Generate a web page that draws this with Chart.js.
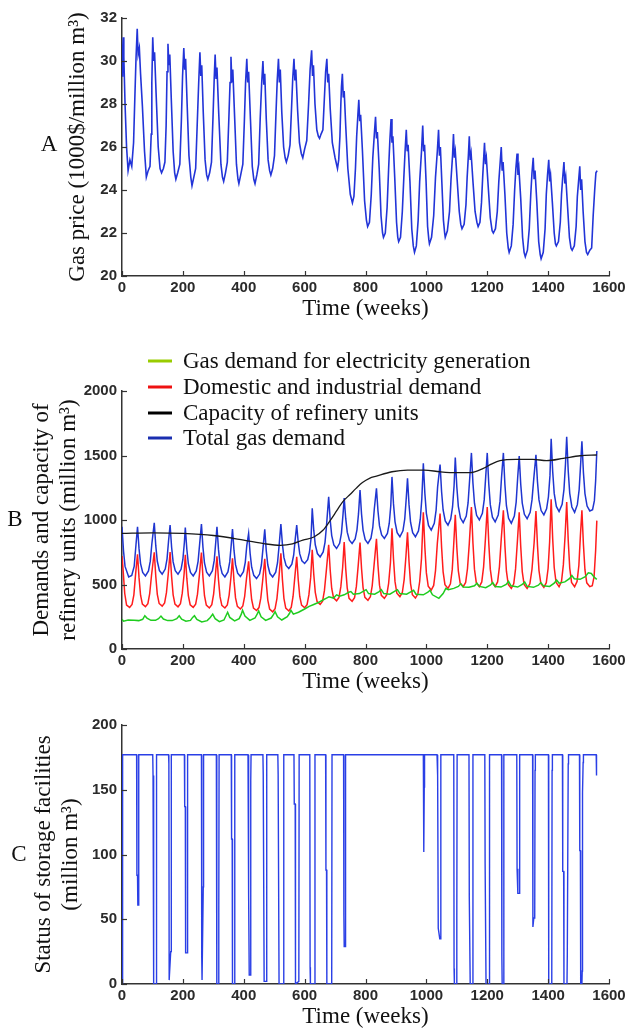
<!DOCTYPE html>
<html>
<head>
<meta charset="utf-8">
<script src="https://cdn.jsdelivr.net/npm/chart.js@4.4.0/dist/chart.umd.min.js"></script>
<style>
  html, body { margin: 0; padding: 0; background: #fff; }
  #wrap { position: relative; width: 626px; height: 1031px; overflow: hidden; background: #fff; }
  canvas { position: absolute; left: 0; }
</style>
</head>
<body>
<div id="wrap">
  <canvas id="chartPrice" width="626" height="330" style="top:0px"></canvas>
  <canvas id="chartDemand" width="626" height="370" style="top:330px"></canvas>
  <canvas id="chartStorage" width="626" height="331" style="top:700px"></canvas>
</div>
<script>
// ---- tick labels ----
const weekTicks = [0, 200, 400, 600, 800, 1000, 1200, 1400, 1600];
const priceTicks = [20, 22, 24, 26, 28, 30, 32];
const demandTicks = [0, 500, 1000, 1500, 2000];
const storageTicks = [0, 50, 100, 150, 200];

// ---- series: [week, value] ----
const gasPrice = [
  [0,29.3],[2,30.5],[4,31.1],[6,30.2],[10,28.0],[15,26.0],[20,24.9],[26,25.4],[32,25.1],[38,26.2],[42,28.2],[46,30.1],
  [50,31.5],[53,30.3],[57,30.6],[61,29.4],[67,27.9],[74,25.8],[80,24.6],[86,24.9],[92,25.1],[96,26.6],[98,29.0],
  [101,31.1],[104,30.0],[107,30.4],[112,28.5],[119,26.0],[125,25.0],[130,24.8],[136,25.0],[141,25.3],[145,27.0],[148,29.5],
  [151,30.8],[154,29.8],[157,30.3],[162,28.2],[168,25.8],[173,24.8],[177,24.5],[183,24.8],[190,25.2],[195,27.2],[199,29.3],
  [203,30.6],[206,29.6],[209,30.1],[214,28.0],[220,25.6],[226,24.6],[230,24.2],[236,24.6],[242,25.0],[247,27.0],[252,29.0],
  [256,30.4],[259,29.3],[262,29.8],[267,27.6],[273,25.4],[278,24.7],[282,24.5],[288,24.8],[294,25.3],[299,27.4],[303,29.2],
  [306,30.3],[309,29.2],[312,29.7],[318,27.5],[325,25.2],[330,24.6],[334,24.4],[340,24.8],[346,25.3],[351,27.3],[355,29.0],
  [358,30.2],[361,29.0],[364,29.6],[370,27.4],[376,25.2],[381,24.5],[384,24.3],[390,24.7],[397,25.2],[402,27.2],[406,29.0],
  [410,30.1],[413,29.0],[416,29.5],[422,27.3],[428,25.1],[433,24.5],[437,24.3],[443,24.7],[449,25.2],[454,27.3],[459,29.0],
  [463,30.0],[466,28.9],[469,29.4],[474,27.3],[480,25.4],[485,24.9],[489,24.7],[495,25.0],[501,25.6],[506,27.6],[510,29.1],
  [514,30.1],[517,29.0],[520,29.6],[525,27.6],[531,26.0],[536,25.5],[540,25.3],[546,25.6],[552,26.1],[557,27.8],[561,29.2],
  [565,30.1],[568,29.1],[571,29.6],[577,27.7],[583,26.2],[589,25.7],[594,25.5],[600,25.9],[607,26.3],[613,28.0],[618,29.6],
  [623,30.5],[626,29.3],[629,29.8],[634,28.0],[640,26.8],[645,26.5],[649,26.4],[654,26.6],[660,26.8],[665,28.3],[669,29.5],
  [673,30.1],[676,29.0],[679,29.4],[684,27.8],[691,26.2],[700,25.5],[708,25.0],[712,25.4],[716,26.5],[719,28.0],[721,28.8],
  [724,29.4],[727,28.3],[730,28.6],[735,27.0],[742,25.0],[750,23.8],[757,23.4],[762,23.7],[767,25.0],[771,26.5],[775,27.5],
  [778,28.2],[781,27.2],[784,27.5],[790,25.8],[797,23.5],[803,22.6],[807,22.3],[813,22.5],[819,23.8],[824,25.5],[829,26.6],
  [833,27.4],[836,26.4],[839,26.7],[845,25.0],[851,22.8],[856,22.0],[859,21.8],[865,22.0],[871,23.2],[876,25.0],[880,26.3],
  [884,27.3],[887,26.2],[890,26.5],[896,24.6],[902,22.5],[906,21.8],[909,21.6],[915,21.8],[921,23.0],[926,24.6],[930,25.8],
  [934,26.8],[937,25.8],[940,26.1],[946,24.4],[952,22.2],[957,21.4],[961,21.1],[967,21.4],[973,22.6],[978,24.4],[984,25.8],
  [988,27.0],[991,25.8],[994,26.1],[999,24.4],[1004,22.3],[1008,21.7],[1010,21.5],[1017,21.8],[1024,22.8],[1030,24.6],[1036,25.8],
  [1040,26.8],[1043,25.6],[1046,26.0],[1051,24.3],[1056,22.6],[1060,22.0],[1062,21.8],[1069,22.1],[1076,23.0],[1081,24.5],[1086,25.6],
  [1089,26.6],[1092,25.5],[1095,25.8],[1101,24.5],[1108,23.0],[1113,22.4],[1117,22.2],[1124,22.4],[1130,23.3],[1134,24.6],[1138,25.6],
  [1141,26.5],[1144,25.4],[1147,25.7],[1153,24.4],[1160,23.0],[1166,22.5],[1170,22.3],[1176,22.5],[1181,23.4],[1185,24.6],[1188,25.4],
  [1191,26.2],[1194,25.2],[1197,25.5],[1203,24.2],[1210,22.7],[1216,22.1],[1220,22.0],[1227,22.2],[1233,23.0],[1238,24.4],[1242,25.2],
  [1246,26.0],[1249,24.9],[1252,25.3],[1258,23.8],[1264,22.0],[1269,21.3],[1272,21.1],[1279,21.4],[1285,22.4],[1290,24.0],[1294,25.0],
  [1298,25.7],[1301,24.7],[1304,25.0],[1310,23.6],[1316,21.8],[1321,21.1],[1325,20.9],[1332,21.2],[1338,22.2],[1343,23.8],[1347,24.8],
  [1351,25.5],[1354,24.5],[1357,24.9],[1363,23.4],[1369,21.6],[1374,21.0],[1377,20.8],[1384,21.1],[1390,22.2],[1394,23.8],[1398,24.7],
  [1402,25.4],[1405,24.4],[1408,24.7],[1414,23.4],[1420,22.0],[1424,21.5],[1427,21.4],[1434,21.6],[1440,22.5],[1444,23.8],[1448,24.6],
  [1452,25.3],[1455,24.3],[1458,24.6],[1464,23.2],[1470,21.8],[1475,21.3],[1479,21.2],[1486,21.4],[1492,22.3],[1496,23.7],[1500,24.4],
  [1504,25.1],[1507,24.0],[1510,24.5],[1515,23.0],[1521,21.6],[1526,21.1],[1530,21.0],[1537,21.2],[1543,21.3],[1548,22.8],[1553,24.0],[1557,24.8],[1561,24.9]
];

const electricityDemand = [
  [0,230],[5,215],[20,225],[40,222],[55,220],[68,230],[75,258],[82,240],[95,222],[110,222],[120,235],[128,255],[136,232],
  [150,220],[165,220],[180,235],[188,258],[196,232],[210,215],[225,222],[232,245],[238,258],[246,230],[262,210],[280,220],
  [290,245],[298,270],[306,235],[320,212],[335,225],[342,260],[347,285],[354,245],[370,218],[385,235],[392,270],[396,300],
  [404,255],[420,222],[437,240],[444,270],[449,295],[457,250],[472,222],[490,240],[498,268],[503,290],[511,250],[525,225],
  [543,250],[550,275],[555,300],[563,270],[580,285],[600,310],[615,330],[630,345],[645,360],[660,380],[672,395],[680,405],
  [695,395],[705,420],[715,410],[730,420],[745,440],[752,445],[760,425],[780,430],[795,450],[802,460],[810,430],[830,425],
  [845,445],[852,460],[860,430],[880,425],[898,450],[905,460],[913,430],[935,425],[950,445],[958,455],[966,425],[990,420],
  [1005,440],[1012,455],[1020,420],[1041,393],[1055,430],[1064,470],[1072,460],[1090,470],[1105,485],[1113,505],[1121,480],
  [1140,478],[1158,490],[1166,510],[1174,485],[1195,475],[1210,495],[1218,515],[1226,485],[1245,480],[1262,500],[1270,525],
  [1278,490],[1300,480],[1315,500],[1323,520],[1331,485],[1352,478],[1368,495],[1376,515],[1384,490],[1405,485],[1420,510],
  [1428,535],[1436,510],[1455,520],[1470,545],[1478,570],[1486,545],[1505,540],[1522,560],[1532,590],[1542,585],[1552,555],[1560,540]
];

const domesticDemand = [
  [0,720],[4,600],[9,430],[15,340],[25,322],[33,345],[39,420],[45,590],
  [51,734],[56,551],[61,417],[67,348],[77,328],[85,352],[91,430],[97,572],
  [106,750],[111,562],[116,424],[122,353],[132,332],[140,357],[146,437],[152,583],
  [158,751],[163,560],[168,420],[174,348],[184,327],[192,352],[198,433],[204,581],
  [208,730],[213,547],[218,413],[224,343],[234,323],[242,347],[248,425],[254,567],
  [261,748],[266,555],[271,413],[277,340],[287,318],[295,344],[301,426],[307,576],
  [312,718],[317,538],[322,406],[328,338],[338,318],[346,342],[352,418],[358,558],
  [363,703],[368,526],[373,396],[379,330],[389,310],[397,334],[403,408],[409,546],
  [416,680],[421,508],[426,382],[432,317],[442,298],[450,321],[456,394],[462,527],
  [469,700],[474,515],[479,379],[485,309],[495,288],[503,313],[509,391],[515,535],
  [522,741],[527,540],[532,393],[538,317],[548,295],[556,322],[562,407],[568,563],
  [574,715],[579,537],[584,407],[590,340],[600,320],[608,344],[614,419],[620,557],
  [625,769],[630,579],[635,439],[641,367],[651,346],[659,371],[665,452],[671,600],
  [679,808],[684,613],[689,469],[695,396],[705,374],[713,400],[719,483],[725,634],
  [730,830],[735,623],[740,471],[746,393],[756,370],[764,398],[770,485],[776,646],
  [782,825],[787,624],[792,476],[798,400],[808,378],[816,405],[822,490],[828,646],
  [836,855],[841,647],[846,495],[852,416],[862,393],[870,421],[876,509],[882,670],
  [887,935],[892,697],[897,522],[903,432],[913,406],[921,438],[927,538],[933,723],
  [938,905],[943,676],[948,507],[954,421],[964,395],[972,426],[978,523],[984,701],
  [990,1060],[995,789],[1000,590],[1006,487],[1016,457],[1024,493],[1030,608],[1036,819],
  [1045,1050],[1050,789],[1055,598],[1061,499],[1071,470],[1079,505],[1085,615],[1090,818],
  [1095,1040],[1100,789],[1105,606],[1111,511],[1121,483],[1129,516],[1135,622],[1141,817],
  [1148,1100],[1153,822],[1158,619],[1164,514],[1174,483],[1182,520],[1188,637],[1194,853],
  [1200,1100],[1205,822],[1210,619],[1216,514],[1226,483],[1234,520],[1240,637],[1246,853],
  [1253,1075],[1258,803],[1263,603],[1269,500],[1279,470],[1287,506],[1293,621],[1299,833],
  [1305,1060],[1310,795],[1315,600],[1321,500],[1331,470],[1340,505],[1347,618],[1354,824],
  [1360,1070],[1365,804],[1370,608],[1376,508],[1386,478],[1394,514],[1400,626],[1405,833],
  [1410,1160],[1415,855],[1420,632],[1426,517],[1436,483],[1444,524],[1450,652],[1456,889],
  [1461,1140],[1466,844],[1471,628],[1477,516],[1487,483],[1495,522],[1501,647],[1506,877],
  [1511,1075],[1516,809],[1521,613],[1527,513],[1537,483],[1545,490],[1551,560],[1556,760],[1560,995]
];

const refineryCapacity = [
  [0,896],[100,900],[200,896],[300,880],[400,844],[470,815],[520,804],[560,815],[594,844],[632,870],
  [660,920],[681,986],[705,1070],[725,1141],[750,1200],[769,1245],[790,1290],[813,1323],[836,1340],
  [887,1374],[938,1387],[993,1387],[1045,1374],[1100,1367],[1143,1367],[1187,1400],[1215,1435],
  [1242,1460],[1295,1470],[1350,1470],[1395,1460],[1450,1478],[1505,1498],[1560,1504]
];

const totalDemand = [
  [0,947],[5,760],[10,640],[22,559],[32,570],[40,640],[46,810],
  [51,947],[56,776],[61,662],[68,594],[77,567],[87,605],[93,681],[98,814],
  [106,978],[111,799],[116,680],[123,608],[132,580],[142,620],[148,699],[153,839],
  [158,960],[163,789],[168,675],[175,607],[184,580],[194,618],[200,694],[205,827],
  [208,942],[213,773],[218,661],[225,593],[234,567],[244,605],[250,680],[255,811],
  [261,968],[266,788],[271,667],[278,595],[287,567],[297,607],[303,687],[308,828],
  [312,947],[317,772],[322,656],[329,586],[338,559],[348,598],[354,675],[359,811],
  [363,929],[368,764],[373,654],[380,588],[389,562],[399,599],[405,672],[410,801],
  [416,896],[421,739],[426,634],[433,571],[442,546],[452,581],[458,651],[463,774],
  [469,927],[474,761],[479,651],[486,585],[495,559],[505,596],[511,669],[516,798],
  [522,968],[527,813],[532,710],[539,648],[548,624],[558,658],[564,727],[569,848],
  [574,960],[579,826],[584,737],[591,684],[600,663],[610,693],[616,752],[621,856],
  [625,1090],[630,921],[635,808],[642,740],[651,714],[661,752],[667,827],[672,958],
  [679,1180],[684,1000],[689,879],[696,807],[705,779],[715,819],[721,899],[726,1040],
  [730,1170],[735,1012],[740,906],[747,843],[756,818],[766,853],[772,924],[777,1047],
  [782,1232],[787,1046],[792,922],[799,847],[808,818],[818,859],[824,942],[829,1087],
  [836,1245],[841,1070],[846,954],[853,884],[862,857],[872,896],[878,973],[883,1109],
  [887,1334],[892,1125],[897,986],[904,902],[913,870],[923,916],[929,1009],[934,1172],
  [938,1323],[943,1119],[948,983],[955,902],[964,870],[974,915],[980,1006],[985,1164],
  [990,1440],[995,1207],[1000,1052],[1007,958],[1016,922],[1026,974],[1032,1077],[1037,1259],
  [1045,1430],[1050,1219],[1055,1078],[1062,993],[1071,960],[1080,1007],[1086,1101],[1091,1266],
  [1095,1485],[1100,1258],[1105,1106],[1112,1015],[1121,980],[1131,1031],[1137,1132],[1142,1308],
  [1148,1520],[1153,1286],[1158,1130],[1165,1036],[1174,1000],[1184,1052],[1190,1156],[1195,1338],
  [1200,1520],[1205,1279],[1210,1119],[1217,1022],[1226,985],[1236,1039],[1242,1146],[1247,1333],
  [1253,1520],[1258,1275],[1263,1111],[1270,1013],[1279,975],[1289,1030],[1295,1139],[1300,1329],
  [1305,1495],[1310,1277],[1315,1131],[1322,1044],[1331,1010],[1341,1059],[1347,1156],[1353,1325],
  [1360,1505],[1365,1296],[1370,1156],[1377,1073],[1386,1040],[1395,1087],[1401,1180],[1406,1342],
  [1410,1630],[1415,1376],[1420,1206],[1427,1105],[1436,1065],[1446,1122],[1452,1235],[1457,1432],
  [1461,1646],[1466,1382],[1471,1207],[1478,1101],[1487,1060],[1496,1119],[1502,1236],[1507,1441],
  [1511,1610],[1516,1367],[1521,1205],[1528,1108],[1537,1070],[1546,1080],[1552,1150],[1556,1300],[1560,1535]
];

const storageStatus = [
  [0,0],[1,79],[2,79],[3,177],
  [48,177],[49,84],[51,84],[52,61],[54,61],[55,177],
  [101,177],[102,161],[103,161],[104,54],[105,0],[112,0],[113,165],[114,177],
  [153,177],[154,170],[155,3],[160,25],[161,25],[162,177],
  [205,177],[206,137],[208,137],[209,24],[214,24],[215,157],[216,177],
  [261,177],[262,20],[263,3],[266,3],[267,75],[268,177],
  [310,177],[311,170],[312,0],[317,0],[318,55],[319,177],
  [359,177],[360,112],[362,112],[363,0],[369,0],[370,64],[371,177],
  [414,177],[415,69],[417,69],[418,7],[422,7],[423,157],[424,177],
  [463,177],[464,162],[466,162],[467,2],[474,2],[475,65],[476,177],
  [512,177],[513,162],[515,162],[516,0],[530,0],[531,32],[532,177],
  [565,177],[566,139],[569,139],[570,0],[581,2],[582,177],
  [617,177],[618,13],[619,0],[632,0],[634,177],
  [669,177],[670,88],[672,88],[673,0],[689,0],[690,177],
  [728,177],[729,53],[730,29],[733,29],[734,110],[735,177],
  [990,177],[991,152],[992,102],[993,152],[994,177],
  [1035,177],[1036,161],[1038,161],[1039,43],[1044,35],[1046,35],[1047,160],[1048,177],
  [1090,177],[1091,12],[1092,0],[1099,0],[1100,51],[1101,177],
  [1140,177],[1141,67],[1143,67],[1144,0],[1151,0],[1153,177],
  [1192,177],[1193,93],[1195,93],[1196,0],[1206,0],[1207,129],[1208,177],
  [1247,177],[1248,21],[1249,0],[1253,0],[1254,171],[1255,177],
  [1297,177],[1298,89],[1300,89],[1301,70],[1305,70],[1306,158],[1307,177],
  [1349,177],[1350,44],[1353,51],[1356,51],[1357,165],[1358,177],
  [1401,177],[1402,0],[1411,0],[1412,3],[1413,165],[1414,177],
  [1447,177],[1448,87],[1451,87],[1452,0],[1462,0],[1463,23],[1465,23],[1466,170],[1467,177],
  [1503,177],[1504,103],[1506,103],[1507,0],[1511,0],[1512,10],[1513,148],[1515,171],[1516,177],
  [1558,177],[1559,161]
];

const demandLabels = [
  'Gas demand for electricity generation',
  'Domestic and industrial demand',
  'Capacity of refinery units',
  'Total gas demand'
];

// ---- shared styling ----
const SERIF = '"Liberation Serif", "Times New Roman", serif';
const SANS = '"Liberation Sans", Arial, sans-serif';
const TEXT = '#111';
const TICK_TEXT = '#2b2b2b';
const AXIS = '#333';

const toPoints = arr => arr.map(([x, y]) => ({ x, y }));

// Inward tick marks, panel letter and the in-axes legend
const framePlugin = {
  id: 'frame',
  afterDraw(chart, args, o) {
    const { ctx, chartArea: a } = chart;
    const xs = chart.scales.x, ys = chart.scales.y;
    ctx.save();
    ctx.strokeStyle = AXIS;
    ctx.lineWidth = 1.2;
    for (const t of xs.ticks) {
      const p = Math.round(xs.getPixelForValue(t.value)) + 0.5;
      ctx.beginPath(); ctx.moveTo(p, a.bottom); ctx.lineTo(p, a.bottom - 5); ctx.stroke();
    }
    for (const t of ys.ticks) {
      const p = Math.round(ys.getPixelForValue(t.value)) + 0.5;
      ctx.beginPath(); ctx.moveTo(a.left, p); ctx.lineTo(a.left + 5, p); ctx.stroke();
    }
    ctx.fillStyle = TEXT;
    ctx.font = '23px ' + SERIF;
    ctx.textAlign = 'center';
    ctx.textBaseline = 'middle';
    if (o.letter) ctx.fillText(o.letter.text, o.letter.x, o.letter.y);
    if (o.legend) {
      const L = o.legend;
      chart.data.datasets.forEach((ds, i) => {
        const yy = a.top + L.rows[i];
        ctx.strokeStyle = L.colors[i];
        ctx.lineWidth = 3;
        ctx.beginPath(); ctx.moveTo(L.x0, yy); ctx.lineTo(L.x1, yy); ctx.stroke();
        ctx.fillStyle = TEXT;
        ctx.textAlign = 'left';
        ctx.fillText(ds.label, L.tx, yy + 1);
      });
    }
    ctx.restore();
  }
};

const plainNumber = v => String(v);

function xAxis() {
  return {
    type: 'linear',
    min: 0, max: 1600,
    afterBuildTicks: s => { s.ticks = weekTicks.map(v => ({ value: v })); },
    afterFit: s => { s.height = 47; s.paddingLeft = 0; s.paddingRight = 0; },
    grid: { display: false, drawTicks: false },
    border: { display: true, color: AXIS, width: 1.5 },
    ticks: { color: TICK_TEXT, font: { family: SANS, weight: 'bold', size: 15 }, padding: 3, maxRotation: 0, autoSkip: false, callback: plainNumber },
    title: { display: true, text: 'Time (weeks)', color: TEXT, font: { family: SERIF, size: 23 }, padding: { top: 0, bottom: 0 } }
  };
}

function yAxis(min, max, tickValues, title, titlePad) {
  return {
    type: 'linear',
    min, max,
    afterBuildTicks: s => { s.ticks = tickValues.map(v => ({ value: v })); },
    afterFit: s => { s.width = 122; s.paddingTop = 0; s.paddingBottom = 0; },
    grid: { display: false, drawTicks: false },
    border: { display: true, color: AXIS, width: 1.5 },
    ticks: { color: TICK_TEXT, font: { family: SANS, weight: 'bold', size: 15 }, padding: 5, autoSkip: false, callback: plainNumber },
    title: { display: true, text: title, color: TEXT, font: { family: SERIF, size: 23 }, padding: { top: titlePad, bottom: 0 } }
  };
}

function baseOptions(padding, scales, frame) {
  return {
    responsive: false,
    animation: false,
    events: [],
    layout: { padding, autoPadding: false },
    elements: { point: { radius: 0 }, line: { tension: 0 } },
    plugins: { legend: { display: false }, tooltip: { enabled: false }, frame },
    scales
  };
}

// ---- A: gas price ----
new Chart(document.getElementById('chartPrice'), {
  type: 'line',
  data: {
    datasets: [{ label: 'Gas price', data: toPoints(gasPrice), borderColor: '#2234d8', borderWidth: 1.6 }]
  },
  options: baseOptions(
    { left: 0, right: 17, top: 18, bottom: 7 },
    { x: xAxis(), y: yAxis(20, 32, priceTicks, 'Gas price (1000$/million m³)', 64) },
    { letter: { text: 'A', x: 49, y: 145 } }
  ),
  plugins: [framePlugin]
});

// ---- B: demands and refinery capacity ----
new Chart(document.getElementById('chartDemand'), {
  type: 'line',
  data: {
    datasets: [
      { label: demandLabels[0], data: toPoints(electricityDemand), borderColor: '#1fcc1f', borderWidth: 1.5 },
      { label: demandLabels[1], data: toPoints(domesticDemand), borderColor: '#ff1c1c', borderWidth: 1.5 },
      { label: demandLabels[2], data: toPoints(refineryCapacity), borderColor: '#1a1a1a', borderWidth: 1.3, cubicInterpolationMode: 'monotone' },
      { label: demandLabels[3], data: toPoints(totalDemand), borderColor: '#1f35d0', borderWidth: 1.5 }
    ]
  },
  options: baseOptions(
    { left: 0, right: 17, top: 61, bottom: 4 },
    { x: xAxis(), y: yAxis(0, 2000, demandTicks, ['Demands and capacity of', 'refinery units (million m³)'], 28) },
    {
      letter: { text: 'B', x: 15, y: 190 },
      legend: { x0: 148, x1: 172, tx: 183, rows: [-30, -4, 22, 47], colors: ['#99cc00', '#ee1111', '#000000', '#1a2fb0'] }
    }
  ),
  plugins: [framePlugin]
});

// ---- C: storage facilities ----
new Chart(document.getElementById('chartStorage'), {
  type: 'line',
  data: {
    datasets: [{ label: 'Status of storage facilities', data: toPoints(storageStatus), borderColor: '#2a3fe6', borderWidth: 1.4 }]
  },
  options: baseOptions(
    { left: 0, right: 17, top: 25, bottom: 0 },
    { x: xAxis(), y: yAxis(0, 200, storageTicks, ['Status of storage facilities', '(million m³)'], 30) },
    { letter: { text: 'C', x: 19, y: 155 } }
  ),
  plugins: [framePlugin]
});
</script>
</body>
</html>
